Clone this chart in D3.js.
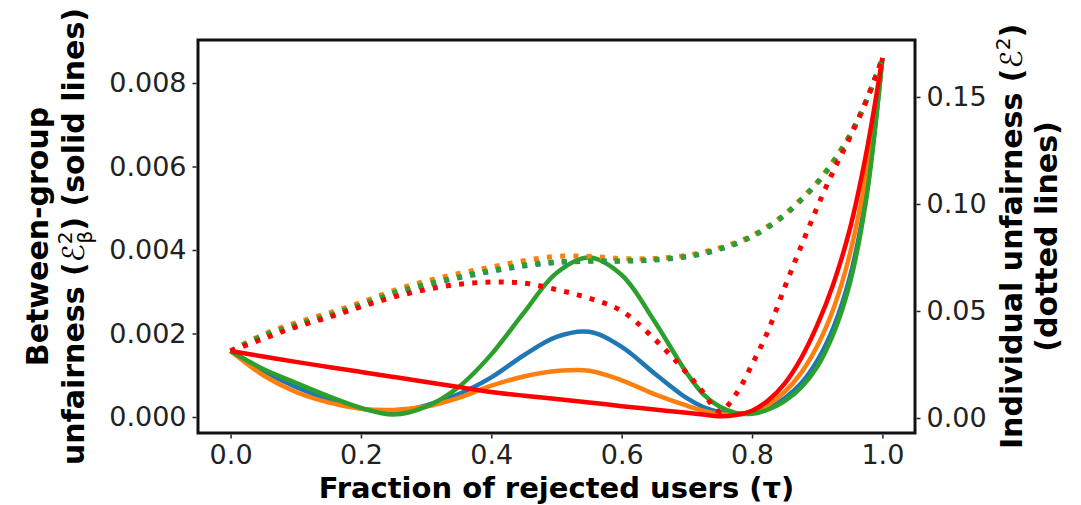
<!DOCTYPE html>
<html>
<head>
<meta charset="utf-8">
<script src="https://cdn.jsdelivr.net/npm/d3@7"></script>
<style>
  html, body { margin: 0; padding: 0; background: #fff; }
  svg { display: block; }
  text { font-family: "DejaVu Sans", sans-serif; }
</style>
</head>
<body>
<svg id="chart" width="1081" height="505"></svg>
<script>
// ---- data ----
const tau = [0, 0.05, 0.1, 0.15, 0.2, 0.25, 0.3, 0.35, 0.4, 0.45, 0.5, 0.55, 0.6, 0.65, 0.7, 0.725, 0.75, 0.775, 0.8, 0.825, 0.85, 0.875, 0.9, 0.925, 0.95, 0.975, 1];

// between-group unfairness (left axis, units of 1e-3)
const groupBlue   = [1.58,1.10,0.72,0.42,0.20,0.12,0.28,0.55,0.95,1.48,1.92,2.04,1.68,1.05,0.45,0.24,0.12,0.08,0.10,0.22,0.45,0.80,1.35,2.15,3.35,5.30,8.60];
const groupOrange = [1.58,1.00,0.60,0.35,0.20,0.17,0.25,0.46,0.75,0.97,1.10,1.11,0.88,0.55,0.27,0.15,0.07,0.06,0.12,0.30,0.60,1.05,1.70,2.60,3.90,5.80,8.60];
const groupGreen  = [1.58,1.15,0.82,0.50,0.22,0.06,0.25,0.72,1.50,2.50,3.45,3.82,3.40,2.30,1.05,0.55,0.25,0.10,0.08,0.18,0.38,0.70,1.20,2.00,3.20,5.20,8.60];
const groupRed    = [1.58,1.45,1.32,1.20,1.08,0.96,0.84,0.72,0.60,0.51,0.43,0.35,0.26,0.18,0.10,0.06,0.02,0.05,0.15,0.40,0.80,1.40,2.20,3.20,4.50,6.30,8.60];

// individual unfairness (right axis, units of 1e-2)
const indivBlue   = [3.13,3.82,4.32,4.76,5.26,5.80,6.20,6.55,6.85,7.10,7.26,7.32,7.33,7.38,7.53,7.68,7.88,8.13,8.47,8.92,9.47,10.17,10.97,11.97,13.17,14.8,16.8];
const indivOrange = [3.13,3.90,4.45,4.90,5.40,5.95,6.40,6.75,7.05,7.35,7.55,7.55,7.45,7.45,7.60,7.75,7.95,8.20,8.52,8.97,9.52,10.22,11.02,12.02,13.22,14.8,16.8];
const indivGreen  = [3.13,3.85,4.35,4.80,5.30,5.85,6.25,6.60,6.90,7.15,7.30,7.35,7.35,7.40,7.55,7.70,7.90,8.15,8.50,8.95,9.50,10.20,11.00,12.00,13.20,14.8,16.8];
const indivRed    = [3.13,3.70,4.25,4.70,5.20,5.65,6.00,6.25,6.35,6.30,6.00,5.60,5.00,3.70,2.10,1.20,0.30,1.10,2.50,4.10,6.10,8.00,9.85,11.55,13.1,14.8,16.8];

const xTicks = [0, 0.2, 0.4, 0.6, 0.8, 1.0];
const yLeftTicks = [0, 0.002, 0.004, 0.006, 0.008];
const yRightTicks = [0, 0.05, 0.10, 0.15];

const colors = { blue: "#1f77b4", orange: "#ff7f0e", green: "#2ca02c", red: "#ff0000" };

const solidSeries = [
  { c: colors.blue, v: groupBlue },
  { c: colors.orange, v: groupOrange },
  { c: colors.green, v: groupGreen },
  { c: colors.red, v: groupRed }
];
const dottedSeries = [
  { c: colors.blue, v: indivBlue },
  { c: colors.orange, v: indivOrange },
  { c: colors.green, v: indivGreen },
  { c: colors.red, v: indivRed }
];

// ---- layout ----
const L = 198, R = 915, T = 40, B = 433;
const svg = d3.select("#chart");

const x = d3.scaleLinear().domain([-0.05, 1.05]).range([L, R]);
const yL = d3.scaleLinear().domain([-0.000383, 0.00903]).range([B, T]);
const yR = d3.scaleLinear().domain([-0.0070, 0.1766]).range([B, T]);

const plot = svg.append("g");

const lineL = d3.line().x((d, i) => x(tau[i])).y(d => yL(d / 1000)).curve(d3.curveCatmullRom.alpha(0.5));
const lineR = d3.line().x((d, i) => x(tau[i])).y(d => yR(d / 100)).curve(d3.curveCatmullRom.alpha(0.5));

solidSeries.forEach(s => {
  plot.append("path").attr("d", lineL(s.v))
    .attr("fill", "none").attr("stroke", s.c).attr("stroke-width", 4.5)
    .attr("stroke-linejoin", "round");
});
dottedSeries.forEach(s => {
  plot.append("path").attr("d", lineR(s.v))
    .attr("fill", "none").attr("stroke", s.c).attr("stroke-width", 5)
    .attr("stroke-dasharray", "5,8.25");
});

// frame
svg.append("rect").attr("x", L).attr("y", T).attr("width", R - L).attr("height", B - T)
  .attr("fill", "none").attr("stroke", "#111").attr("stroke-width", 3);

// axes
const fmt3 = d3.format(".3f"), fmt2 = d3.format(".2f"), fmt1 = d3.format(".1f");
const axB = d3.axisBottom(x).tickValues(xTicks).tickFormat(fmt1).tickSize(4).tickPadding(6);
const axL = d3.axisLeft(yL).tickValues(yLeftTicks).tickFormat(fmt3).tickSize(4).tickPadding(6);
const axRt = d3.axisRight(yR).tickValues(yRightTicks).tickFormat(fmt2).tickSize(4).tickPadding(6);

function styleAxis(g) {
  g.select(".domain").remove();
  g.selectAll(".tick line").attr("stroke", "#222").attr("stroke-width", 1.5);
  g.selectAll(".tick text").attr("fill", "#222").style("font-size", "27px")
    .style("font-family", "'DejaVu Sans', sans-serif");
}
svg.append("g").attr("transform", `translate(0,${B + 1.5})`).call(axB).call(styleAxis);
svg.append("g").attr("transform", `translate(${L - 1.5},0)`).call(axL).call(styleAxis);
svg.append("g").attr("transform", `translate(${R + 1.5},0)`).call(axRt).call(styleAxis);

// axis labels
svg.append("text").attr("x", (L + R) / 2).attr("y", 498).attr("text-anchor", "middle")
  .style("font-size", "29px").style("font-weight", "bold").attr("fill", "#000")
  .text("Fraction of rejected users (τ)");

const cy = (T + B) / 2;
svg.append("text").attr("transform", `translate(48,${cy}) rotate(-90)`).attr("text-anchor", "middle")
  .style("font-size", "30px").style("font-weight", "bold").text("Between-group");

const l2 = svg.append("text").attr("transform", `translate(84,${cy}) rotate(-90)`).attr("text-anchor", "middle")
  .style("font-size", "30px").style("font-weight", "bold");
l2.append("tspan").text("unfairness (");
l2.append("tspan").style("font-weight", "normal").style("font-style", "italic").text("ℰ");
l2.append("tspan").style("font-weight", "normal").style("font-size", "20px").attr("dy", -12).text("2");
l2.append("tspan").style("font-weight", "normal").style("font-size", "20px").attr("dx", -12).attr("dy", 20).text("β");
l2.append("tspan").attr("dy", -8).text(") (solid lines)");

const r1 = svg.append("text").attr("transform", `translate(1022,${cy}) rotate(-90)`).attr("text-anchor", "middle")
  .style("font-size", "30px").style("font-weight", "bold");
r1.append("tspan").text("Individual unfairness (");
r1.append("tspan").style("font-weight", "normal").style("font-style", "italic").text("ℰ");
r1.append("tspan").style("font-weight", "normal").style("font-size", "20px").attr("dy", -12).text("2");
r1.append("tspan").attr("dy", 12).text(")");

svg.append("text").attr("transform", `translate(1057,${cy}) rotate(-90)`).attr("text-anchor", "middle")
  .style("font-size", "30px").style("font-weight", "bold").text("(dotted lines)");
</script>
</body>
</html>
